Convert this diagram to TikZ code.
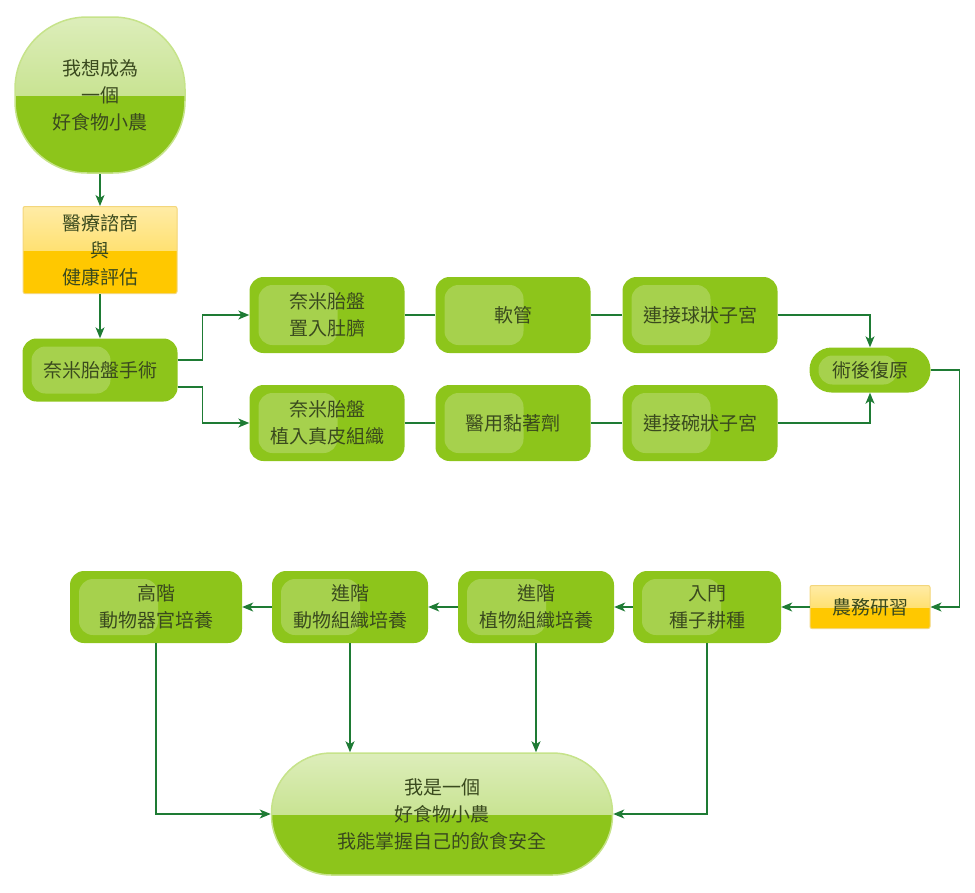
\documentclass[tikz,border=0pt]{standalone}
\usepackage{fontspec}
\setmainfont{Noto Sans CJK TC}
\usetikzlibrary{positioning, calc, arrows.meta}
\definecolor{leaf}{HTML}{8DC51B}
\definecolor{leafedge}{HTML}{C6E38A}
\definecolor{wire}{HTML}{1E7B34}
\definecolor{ink}{HTML}{3A4A1E}
\definecolor{gold}{HTML}{FFC800}
\definecolor{goldedge}{HTML}{F3D67C}

\begin{document}
\begin{tikzpicture}
        [
            x=1pt, y=-1pt,
            every node/.style={text=ink, align=center,
                               font=\fontsize{19}{27}\selectfont},
            box/.style={fill=leaf, rounded corners=14pt,
                        minimum width=155pt, minimum height=76pt,
                        path picture={\fill[white, opacity=0.22, rounded corners=14pt]
                            ($(path picture bounding box.north west)+(9pt,-8pt)$) rectangle
                            ($(path picture bounding box.south west)+(88pt,8pt)$);}},
            blob/.style={fill=leaf, draw=leafedge, line width=1.5pt,
                         path picture={\shade[sharp corners, top color=leaf!30!white,
                                              bottom color=leaf!65!white]
                            (path picture bounding box.north west) rectangle
                            (path picture bounding box.east);}},
            note/.style={fill=gold, draw=goldedge, line width=1pt, rounded corners=2pt,
                         path picture={\shade[sharp corners, top color=gold!35!white,
                                              bottom color=gold!75!white]
                            (path picture bounding box.north west) rectangle
                            (path picture bounding box.east);}},
            link/.style={draw=wire, line width=1.2pt},
            >={Stealth[length=11pt, width=9pt, inset=3pt]}
        ]
        \useasboundingbox (0,0) rectangle (975,892);
        % top column
        \node (start) [blob, rounded corners=72pt, minimum width=170pt,
                       minimum height=156pt] at (100,95) {我想成為\\一個\\好食物小農};
        \node (consult) [note, minimum width=154pt, minimum height=87pt] at (100,250)
              {醫療諮商\\與\\健康評估};
        \node (surgery) [box, minimum height=63pt] at (100,370) {奈米胎盤手術};
        % two branches
        \node (navel) [box] at (327,315) {奈米胎盤\\置入肚臍};
        \node (tube) [box] at (513,315) {軟管};
        \node (ball) [box] at (700,315) {連接球狀子宮};
        \node (skin) [box] at (327,423) {奈米胎盤\\植入真皮組織};
        \node (glue) [box] at (513,423) {醫用黏著劑};
        \node (bowl) [box] at (700,423) {連接碗狀子宮};
        \node (recover) [box, rounded corners=22pt, minimum width=121pt,
                         minimum height=45pt] at (870,370) {術後復原};
        % farm row
        \node (study) [note, minimum width=120pt, minimum height=43pt] at (870,607) {農務研習};
        \node (seed) [box, minimum width=148pt, minimum height=72pt] at (707,607) {入門\\種子耕種};
        \node (plant) [box, minimum width=156pt, minimum height=72pt] at (536,607) {進階\\植物組織培養};
        \node (tissue) [box, minimum width=156pt, minimum height=72pt] at (350,607) {進階\\動物組織培養};
        \node (organ) [box, minimum width=172pt, minimum height=72pt] at (156,607) {高階\\動物器官培養};
        \node (goal) [blob, rounded corners=60pt, minimum width=341pt,
                      minimum height=122pt] at (442,814)
              {我是一個\\好食物小農\\我能掌握自己的飲食安全};
        % connectors
        \foreach \i/\j in {start/consult, consult/surgery, study/seed,
                           seed/plant, plant/tissue, tissue/organ}
            \draw [link, ->] (\i) -- (\j);
        \draw [link, ->] ([yshift=10pt]surgery.east) -- ++(25,0) |- (navel);
        \draw [link, ->] ([yshift=-17pt]surgery.east) -- ++(25,0) |- (skin);
        \draw [link] (navel) -- (tube) -- (ball);
        \draw [link] (skin) -- (glue) -- (bowl);
        \draw [link, ->] (ball.east) -| (recover.north);
        \draw [link, ->] (bowl.east) -| (recover.south);
        \draw [link, ->] (recover.east) -- ++(29,0) |- (study.east);
        \draw [link, ->] (organ.south) |- (goal.west);
        \draw [link, ->] (tissue.south) -- (tissue.south |- goal.north);
        \draw [link, ->] (plant.south) -- (plant.south |- goal.north);
        \draw [link, ->] (seed.south) |- (goal.east);
    \end{tikzpicture}
\end{document}
